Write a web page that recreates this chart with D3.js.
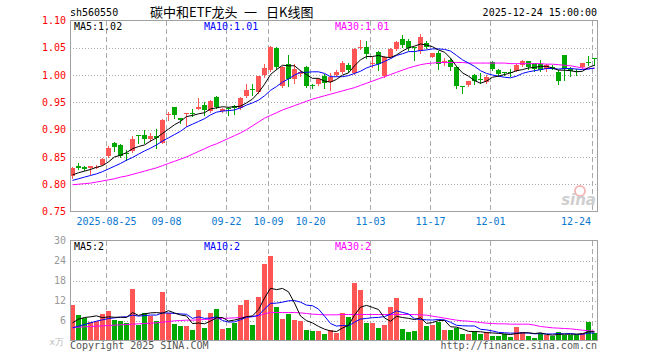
<!DOCTYPE html>
<html>
<head>
<meta charset="utf-8">
<script src="https://cdn.jsdelivr.net/npm/d3@7"></script>
<style>
  body { margin: 0; background: #fff; }
  svg text { font-family: "DejaVu Sans Mono", monospace; font-size: 10px; }
</style>
</head>
<body>
<div id="kChart"></div>
<script>
/*#########
  Data
#########*/
const dates = [
  "08-15","08-18","08-19","08-20","08-21","08-22","08-25","08-26","08-27","08-28","08-29",
  "09-01","09-02","09-03","09-04","09-05","09-08","09-09","09-10","09-11","09-12",
  "09-15","09-16","09-17","09-18","09-19","09-22","09-23","09-24","09-25","09-26","09-29","09-30",
  "10-09","10-10","10-13","10-14","10-15","10-16","10-17","10-20","10-21","10-22","10-23","10-24",
  "10-27","10-28","10-29","10-30","10-31",
  "11-03","11-04","11-05","11-06","11-07","11-10","11-11","11-12","11-13","11-14",
  "11-17","11-18","11-19","11-20","11-21","11-24","11-25","11-26","11-27","11-28",
  "12-01","12-02","12-03","12-04","12-05","12-08","12-09","12-10","12-11","12-12",
  "12-15","12-16","12-17","12-18","12-19","12-22","12-23","12-24"
];

const opens = [
  0.815,0.833,0.831,0.829,0.831,0.836,0.851,0.875,0.872,0.858,
  0.860,0.890,0.890,0.883,0.889,0.876,0.928,0.941,0.921,0.929,
  0.931,0.937,0.945,0.934,0.960,0.935,0.940,0.943,0.939,0.962,
  0.975,0.969,1.000,1.009,1.050,0.980,1.020,0.992,1.002,1.014,
  0.982,0.983,0.998,0.988,1.001,1.006,1.019,1.004,1.050,1.051,
  1.021,1.043,0.998,1.034,1.048,1.066,1.062,1.051,1.045,1.058,
  1.034,1.040,1.025,1.028,1.015,0.980,0.981,1.001,0.993,0.988,
  1.024,1.009,1.005,1.006,1.008,1.018,1.025,1.022,1.021,1.012,
  1.015,1.005,1.036,1.011,1.008,1.014,1.024,1.031
];
const closes = [
  0.830,0.830,0.828,0.833,0.832,0.847,0.867,0.869,0.851,0.855,
  0.882,0.889,0.883,0.888,0.885,0.918,0.929,0.926,0.917,0.930,
  0.930,0.941,0.936,0.953,0.941,0.938,0.937,0.939,0.958,0.972,
  0.972,0.998,1.013,1.052,1.014,1.015,0.992,1.012,1.006,0.980,
  0.981,0.992,0.985,0.996,1.006,1.023,1.010,1.048,1.052,1.038,
  1.022,1.021,1.033,1.048,1.061,1.056,1.050,1.049,1.069,1.052,
  1.040,1.021,1.026,1.015,0.980,0.978,0.989,0.989,0.991,0.997,
  1.012,1.002,1.003,1.004,1.018,1.025,1.014,1.011,1.010,1.019,
  1.013,0.990,1.012,1.008,1.005,1.022,1.023,1.030
];
const highs = [
  0.832,0.838,0.834,0.834,0.835,0.848,0.870,0.878,0.874,0.862,
  0.889,0.890,0.900,0.894,0.902,0.920,0.933,0.942,0.922,0.931,
  0.938,0.958,0.951,0.955,0.961,0.940,0.941,0.946,0.960,0.983,
  0.983,0.999,1.021,1.054,1.051,1.016,1.036,1.020,1.010,1.016,
  0.984,0.995,1.002,1.003,1.009,1.025,1.022,1.050,1.064,1.063,
  1.033,1.045,1.035,1.050,1.063,1.073,1.067,1.052,1.075,1.063,
  1.041,1.044,1.032,1.032,1.017,0.980,0.990,1.002,1.004,1.000,
  1.025,1.011,1.006,1.012,1.021,1.028,1.026,1.023,1.028,1.021,
  1.018,1.010,1.036,1.014,1.012,1.023,1.035,1.031
];
const lows = [
  0.812,0.827,0.826,0.819,0.830,0.835,0.850,0.861,0.849,0.845,
  0.859,0.876,0.876,0.879,0.867,0.875,0.917,0.921,0.913,0.907,
  0.925,0.937,0.926,0.932,0.940,0.933,0.926,0.929,0.937,0.960,
  0.964,0.968,0.997,1.007,1.012,0.978,0.980,0.985,0.998,0.978,
  0.977,0.981,0.976,0.972,0.998,1.004,1.006,1.002,1.047,1.032,
  1.015,1.010,0.997,1.032,1.046,1.051,1.046,1.028,1.040,1.050,
  1.033,1.012,1.018,1.010,0.977,0.967,0.980,0.983,0.985,0.986,
  1.010,0.998,1.000,0.999,1.007,1.017,1.012,1.007,1.008,1.008,
  1.011,0.983,0.991,0.999,1.000,1.013,1.019,1.019
];

// price moving averages
const ma5 = [
  0.817,0.821,0.824,0.827,0.831,0.834,0.841,0.850,0.853,0.858,
  0.865,0.869,0.872,0.879,0.885,0.893,0.901,0.909,0.915,0.924,
  0.926,0.929,0.931,0.938,0.940,0.942,0.941,0.942,0.943,0.949,
  0.956,0.968,0.983,1.001,1.010,1.018,1.017,1.017,1.008,1.001,
  0.994,0.994,0.989,0.987,0.992,1.000,1.004,1.017,1.028,1.034,
  1.034,1.036,1.033,1.032,1.037,1.044,1.050,1.053,1.057,1.055,
  1.052,1.046,1.042,1.031,1.016,1.004,0.998,0.990,0.985,0.989,
  0.996,0.998,1.001,1.004,1.008,1.010,1.013,1.014,1.016,1.016,
  1.013,1.009,1.009,1.008,1.006,1.007,1.014,1.018
];
const ma10 = [
  0.807,0.810,0.813,0.816,0.819,0.823,0.828,0.833,0.838,0.844,
  0.849,0.855,0.861,0.866,0.872,0.879,0.885,0.891,0.897,0.905,
  0.910,0.915,0.920,0.927,0.932,0.934,0.935,0.936,0.940,0.945,
  0.949,0.954,0.962,0.972,0.979,0.987,0.993,1.000,1.005,1.005,
  1.006,1.006,1.003,0.997,0.997,0.997,0.999,1.003,1.007,1.013,
  1.017,1.020,1.025,1.030,1.036,1.039,1.043,1.043,1.045,1.046,
  1.048,1.048,1.047,1.044,1.036,1.028,1.022,1.016,1.008,1.003,
  1.000,0.998,0.996,0.995,0.998,1.003,1.006,1.008,1.010,1.012,
  1.012,1.011,1.012,1.012,1.011,1.010,1.011,1.013
];
const ma30 = [
  0.799,0.800,0.801,0.802,0.804,0.806,0.808,0.810,0.813,0.815,
  0.818,0.821,0.824,0.827,0.830,0.834,0.838,0.842,0.846,0.850,
  0.855,0.860,0.865,0.870,0.874,0.879,0.884,0.889,0.894,0.900,
  0.907,0.914,0.921,0.926,0.931,0.936,0.940,0.944,0.948,0.952,
  0.956,0.959,0.962,0.965,0.968,0.971,0.974,0.977,0.981,0.985,
  0.989,0.993,0.997,1.001,1.005,1.009,1.013,1.016,1.019,1.021,
  1.022,1.023,1.023,1.023,1.023,1.023,1.022,1.022,1.022,1.022,
  1.022,1.022,1.022,1.021,1.021,1.021,1.021,1.021,1.021,1.020,
  1.020,1.019,1.018,1.017,1.015,1.013,1.012,1.012
];

// volume, in 万
const volumes = [
  10.7,7.7,6.9,5.7,6.0,8.0,8.9,6.2,5.9,5.4,
  15.5,4.7,8.4,7.4,5.9,14.6,8.4,5.0,4.4,4.4,
  3.2,9.2,3.9,8.4,9.5,3.5,3.9,5.4,10.7,12.2,
  4.7,13.1,23.0,25.4,10.1,6.5,8.0,6.2,5.9,3.2,
  3.0,2.9,2.0,3.2,2.4,8.2,7.0,17.2,15.1,5.2,
  5.2,3.8,4.6,10.0,12.7,3.4,2.5,2.8,12.7,4.3,
  4.6,5.5,3.1,3.1,3.7,1.9,1.9,2.8,1.9,2.5,
  1.3,1.3,1.9,1.0,4.0,2.5,1.3,0.7,2.2,1.6,
  1.3,2.5,1.6,1.6,1.6,2.2,5.5,2.2
];
const volMa5 = [
  5.3,6.4,6.9,7.1,7.40,6.86,7.10,6.96,7.00,6.88,
  8.38,7.54,7.98,8.28,8.38,8.20,8.94,8.26,7.66,7.36,
  5.08,5.24,5.02,5.82,6.84,6.90,5.84,6.14,6.60,7.14,
  7.38,9.22,12.74,15.68,15.26,15.62,14.60,11.24,7.34,5.96,
  5.26,4.24,3.40,2.86,2.70,3.74,4.56,7.60,9.98,10.54,
  9.94,9.30,6.78,5.76,7.26,6.90,6.64,6.28,6.82,5.14,
  5.38,5.98,6.04,4.12,4.00,3.46,2.74,2.68,2.62,2.38,
  2.26,2.14,1.96,1.78,2.08,2.32,2.32,2.08,2.32,1.84,
  1.60,1.84,1.90,1.88,1.88,2.06,2.66,2.62
];
const volMa10 = [
  3.8,4.3,4.8,5.3,5.8,6.2,6.6,6.8,7.0,7.14,
  7.62,7.32,7.47,7.64,7.63,8.29,8.24,8.12,7.97,7.87,
  6.64,7.09,6.64,6.74,7.10,5.99,5.54,5.58,6.21,6.99,
  7.14,7.53,9.44,11.14,11.20,11.50,11.91,11.99,11.51,10.61,
  10.44,9.42,7.32,5.10,4.33,4.50,4.40,5.50,6.42,6.62,
  6.84,6.93,7.19,7.87,8.90,8.42,7.97,6.53,6.29,6.20,
  6.14,6.31,6.16,5.47,4.57,4.42,4.36,4.36,3.37,3.19,
  2.86,2.44,2.32,2.20,2.23,2.29,2.23,2.02,2.05,1.96,
  1.96,2.08,1.99,2.10,1.86,1.83,2.25,2.26
];
const volMa30 = [
  3.9,4.0,4.1,4.2,4.3,4.4,4.5,4.6,4.7,4.8,
  4.9,5.0,5.1,5.2,5.3,5.5,5.7,5.9,6.0,6.1,
  6.1,6.2,6.3,6.4,6.5,6.6,6.7,6.8,6.9,7.0,
  7.2,7.4,8.0,8.4,8.4,8.4,8.4,8.4,8.3,8.1,
  7.9,7.8,7.7,7.7,7.7,7.8,7.8,7.8,7.8,7.8,
  7.8,7.8,7.8,7.8,7.8,7.8,7.8,7.8,7.7,7.6,
  7.3,7.0,6.7,6.4,6.1,5.9,5.8,5.6,5.4,5.2,
  5.1,5.0,5.0,4.9,4.9,4.9,4.9,4.6,4.2,4.0,
  3.8,3.7,3.6,3.5,3.3,3.1,2.9,2.8
];

// axis ticks
const priceTicks = [0.75, 0.80, 0.85, 0.90, 0.95, 1.00, 1.05, 1.10];
const volTicks = [6, 12, 18, 24, 30];
const dateTicks = ["08-25","09-08","09-22","10-09","10-20","11-03","11-17","12-01","12-24"];
const dateTickLabels = ["2025-08-25","09-08","09-22","10-09","10-20","11-03","11-17","12-01","12-24"];

/*#########
  Global
#########*/
const W = 660, H = 360;
const left = 70, right = 598;
const red = "#ff5555", green = "#00a800";
const gridColor = "#aaaaaa", frameColor = "#a0a0a0";

const svg = d3.select("#kChart")
  .append("svg")
  .attr("width", W)
  .attr("height", H);

//Scales
const x = d3.scaleBand().domain(dates).range([left, right]).padding(0);
const y = d3.scaleLinear().domain([0.75, 1.10]).range([211.5, 20.5]);
const yv = d3.scaleLinear().domain([0, 30]).range([340.5, 240.5]);

const rows = dates.map((d, i) => ({
  date: d, o: opens[i], c: closes[i], h: highs[i], l: lows[i], v: volumes[i]
}));
const colorOf = d => d.c >= d.o ? red : green;

/*#########
  Header
#########*/
svg.append("text").attr("x", 70).attr("y", 16).attr("fill", "#000").text("sh560550");
const title = svg.append("g")
  .style("font-family", '"Noto Sans CJK SC", sans-serif')
  .style("font-size", "13px");
title.append("text").attr("x", 150).attr("y", 16.5).style("font-family", "inherit").style("font-size", "inherit").text("碳中和ETF龙头");
title.append("text").attr("x", 244).attr("y", 16.5).style("font-family", "inherit").style("font-size", "inherit").text("一");
title.append("text").attr("x", 266).attr("y", 16.5).style("font-family", "inherit").style("font-size", "inherit").text("日K线图");
svg.append("text").attr("x", 597).attr("y", 16).attr("text-anchor", "end").text("2025-12-24 15:00:00");

/*#########
  Grids
#########*/
function panelGrid(yScale, ticks, top, bottom) {
  svg.append("g")
    .selectAll("line")
    .data(ticks)
    .join("line")
    .attr("x1", left).attr("x2", right)
    .attr("y1", d => Math.round(yScale(d)) + 0.5)
    .attr("y2", d => Math.round(yScale(d)) + 0.5)
    .attr("stroke", gridColor)
    .attr("stroke-dasharray", "1,2");
  svg.append("g")
    .selectAll("line")
    .data(dateTicks)
    .join("line")
    .attr("x1", d => x(d) + 0.5).attr("x2", d => x(d) + 0.5)
    .attr("y1", top).attr("y2", bottom)
    .attr("stroke", gridColor)
    .attr("stroke-dasharray", "5,3");
}
panelGrid(y, [0.80, 0.85, 0.90, 0.95, 1.00, 1.05], 21, 211);
panelGrid(yv, [6, 12, 18, 24], 241, 340);

/*#########
  Candles
#########*/
const candles = svg.append("g");
candles.selectAll("line")
  .data(rows)
  .join("line")
  .attr("x1", d => x(d.date) + 2.5).attr("x2", d => x(d.date) + 2.5)
  .attr("y1", d => Math.round(y(d.h)))
  .attr("y2", d => Math.round(y(d.l)) + 1)
  .attr("stroke", colorOf);
candles.selectAll("rect")
  .data(rows)
  .join("rect")
  .attr("x", d => x(d.date))
  .attr("y", d => Math.round(y(Math.max(d.o, d.c))))
  .attr("width", x.bandwidth() - 1)
  .attr("height", d => Math.max(1, Math.round(y(Math.min(d.o, d.c))) - Math.round(y(Math.max(d.o, d.c)))))
  .attr("fill", colorOf);

//MA lines
const priceLine = d3.line().x((d, i) => x(dates[i]) + 2.5).y(d => y(d));
[[ma30, "#ff00ff"], [ma10, "#0000ff"], [ma5, "#000000"]].forEach(([s, col]) => {
  svg.append("path").datum(s).attr("d", priceLine)
    .attr("fill", "none").attr("stroke", col).attr("stroke-width", 1);
});

/*#########
  Volume
#########*/
svg.append("g")
  .selectAll("rect")
  .data(rows)
  .join("rect")
  .attr("x", d => x(d.date))
  .attr("y", d => Math.round(yv(d.v)))
  .attr("width", x.bandwidth() - 1)
  .attr("height", d => 340 - Math.round(yv(d.v)))
  .attr("fill", colorOf);

const volLine = d3.line().x((d, i) => x(dates[i]) + 2.5).y(d => yv(d));
[[volMa30, "#ff00ff"], [volMa10, "#0000ff"], [volMa5, "#000000"]].forEach(([s, col]) => {
  svg.append("path").datum(s).attr("d", volLine)
    .attr("fill", "none").attr("stroke", col).attr("stroke-width", 1);
});

/*#########
  Frames
#########*/
svg.append("rect").attr("x", 70.5).attr("y", 20.5).attr("width", 527).attr("height", 191)
  .attr("fill", "none").attr("stroke", frameColor);
svg.append("rect").attr("x", 70.5).attr("y", 240.5).attr("width", 527).attr("height", 100)
  .attr("fill", "none").attr("stroke", frameColor);

//sina mark
svg.append("circle").attr("cx", 580).attr("cy", 191).attr("r", 5)
  .attr("fill", "none").attr("stroke", "#f4b8b8").attr("stroke-width", 2);
svg.append("text").attr("x", 596).attr("y", 205).attr("text-anchor", "end")
  .style("font-family", '"DejaVu Sans", sans-serif').style("font-size", "15px")
  .style("font-style", "italic").style("font-weight", "bold")
  .attr("fill", "#cfcfcf").text("sina");

/*#########
  Axes
#########*/
svg.append("g")
  .attr("transform", "translate(70,0)")
  .call(d3.axisLeft(y).tickValues(priceTicks).tickFormat(d3.format(".2f")).tickSize(0).tickPadding(4))
  .call(g => g.select(".domain").remove())
  .call(g => g.selectAll("text").attr("fill", "#ff0000")
    .style("font-family", '"DejaVu Sans Mono", monospace').style("font-size", "10px"));

svg.append("g")
  .attr("transform", "translate(70,0)")
  .call(d3.axisLeft(yv).tickValues(volTicks).tickSize(0).tickPadding(4))
  .call(g => g.select(".domain").remove())
  .call(g => g.selectAll("text").attr("fill", "#999999")
    .style("font-family", '"DejaVu Sans Mono", monospace').style("font-size", "10px"));

svg.append("text").attr("x", 64).attr("y", 345).attr("text-anchor", "end")
  .attr("fill", "#bbbbbb").style("font-size", "9px").text("x万");

//date labels
svg.append("g")
  .selectAll("text")
  .data(dateTicks)
  .join("text")
  .attr("x", (d, i) => i === dateTicks.length - 1 ? x(d) - 1 : x(d) + 0.5)
  .attr("y", 225)
  .attr("text-anchor", (d, i) => i === dateTicks.length - 1 ? "end" : "middle")
  .attr("fill", "#0b78d0")
  .text((d, i) => dateTickLabels[i]);

/*#########
  Legends
#########*/
const last = dates.length - 1;
const fmt2 = d3.format(".2f");
const legend = [
  ["MA5:", "#000000", 74], ["MA10:", "#0000ff", 204], ["MA30:", "#ff00ff", 335]
];
const priceMa = [ma5, ma10, ma30], volMa = [volMa5, volMa10, volMa30];
legend.forEach(([name, col, lx], k) => {
  svg.append("text").attr("x", lx).attr("y", 29.5).attr("fill", col)
    .text(name + fmt2(priceMa[k][last]));
  svg.append("text").attr("x", lx).attr("y", 249.5).attr("fill", col)
    .text(name + Math.floor(volMa[k][last]));
});

/*#########
  Footer
#########*/
svg.append("text").attr("x", 70).attr("y", 349).attr("fill", "#555555").text("Copyright 2025 SINA.COM");
svg.append("text").attr("x", 597).attr("y", 349).attr("text-anchor", "end").attr("fill", "#555555").text("http://finance.sina.com.cn");
</script>
</body>
</html>
